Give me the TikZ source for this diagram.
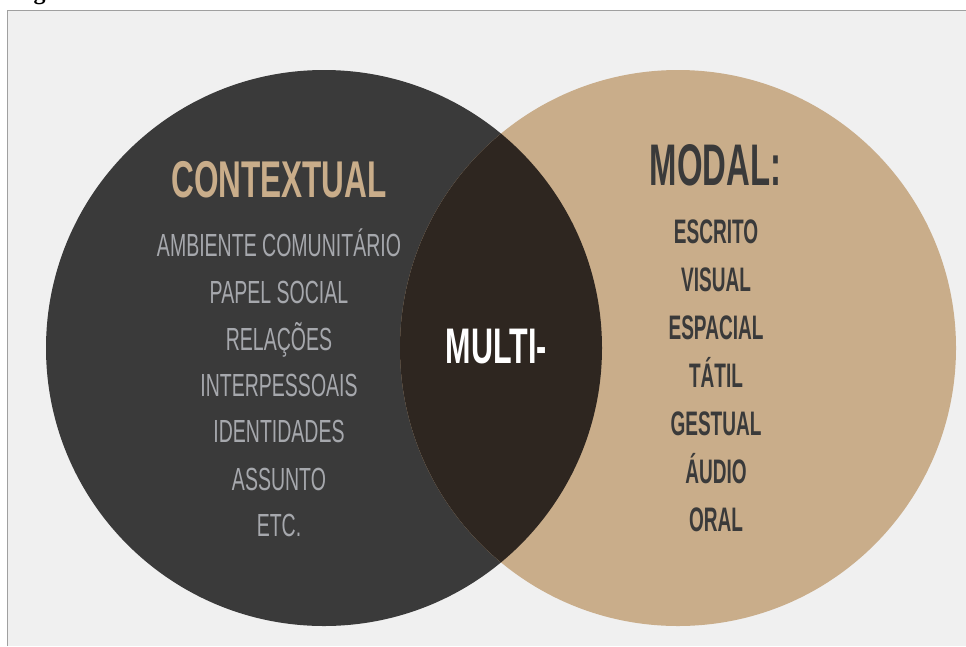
\documentclass[tikz,border=0pt]{standalone}
\usepackage{fontspec}
\setmainfont{Liberation Serif}
\newfontfamily\ctxfont[FakeStretch=0.61]{Liberation Sans}
\newfontfamily\modfont[FakeStretch=0.56]{Liberation Sans}
\definecolor{pagebg}{HTML}{F0F0F0}
\definecolor{framegray}{HTML}{A0A0A0}
\definecolor{ctxfill}{HTML}{3A3A3A}
\definecolor{modfill}{HTML}{C9AD8A}
\definecolor{multifill}{HTML}{2E2620}
\definecolor{itemgray}{HTML}{A6A8AD}
\definecolor{darktext}{HTML}{3A3A3A}
\tikzset{
  ctxitem/.style={anchor=base, text=itemgray, font=\ctxfont\fontsize{32}{32}\selectfont},
  moditem/.style={anchor=base, text=darktext, font=\modfont\bfseries\fontsize{34}{34}\selectfont}
}
\begin{document}
\begin{tikzpicture}[x=1pt,y=-1pt]
  \clip (0,0) rectangle (966,646);
  % Page
  \fill[white] (0,0) rectangle (966,646);
  \fill[pagebg] (7,10) rectangle (966,646);
  \draw[framegray, line width=1pt] (7,646) -- (7,10) -- (966,10);
  \node[anchor=base west, inner sep=0pt, font=\bfseries\fontsize{24}{24}\selectfont] (fig) at (12,-1) {Figura};
  % Circles
  \coordinate (ctx) at (324,348);
  \coordinate (mod) at (678,348);
  \fill[ctxfill] (ctx) circle [radius=278pt];
  \fill[modfill] (mod) circle [radius=278pt];
  \begin{scope}
    \clip (ctx) circle [radius=278pt];
    \fill[multifill] (mod) circle [radius=278pt];
  \end{scope}
  % Left-hand list
  \node[anchor=base, text=modfill, font=\ctxfont\bfseries\fontsize{51.7}{52}\selectfont] (ctxtitle) at (279,197) {CONTEXTUAL};
  \node[ctxitem] (amb) at (279,256) {AMBIENTE COMUNITÁRIO};
  \node[ctxitem] (pap) at (279,303) {PAPEL SOCIAL};
  \node[ctxitem] (rel) at (279,350) {RELAÇÕES};
  \node[ctxitem] (int) at (279,396.7) {INTERPESSOAIS};
  \node[ctxitem] (ide) at (279,442.7) {IDENTIDADES};
  \node[ctxitem] (ass) at (279,490) {ASSUNTO};
  \node[ctxitem] (etc) at (279,536.7) {ETC.};
  % Middle
  \node[anchor=base, text=white, font=\ctxfont\bfseries\fontsize{50}{50}\selectfont] (multi) at (496.5,363) {MULTI-};
  % Right-hand list
  \node[anchor=base, text=darktext, font=\modfont\bfseries\fontsize{58.7}{59}\selectfont] (modtitle) at (715.5,185) {MODAL:};
  \node[moditem] (esc) at (716,243) {ESCRITO};
  \node[moditem] (vis) at (716,291) {VISUAL};
  \node[moditem] (esp) at (716,339) {ESPACIAL};
  \node[moditem] (tat) at (716,387) {TÁTIL};
  \node[moditem] (ges) at (716,435) {GESTUAL};
  \node[moditem] (aud) at (716,483) {ÁUDIO};
  \node[moditem] (ora) at (716,531) {ORAL};
\end{tikzpicture}
\end{document}
